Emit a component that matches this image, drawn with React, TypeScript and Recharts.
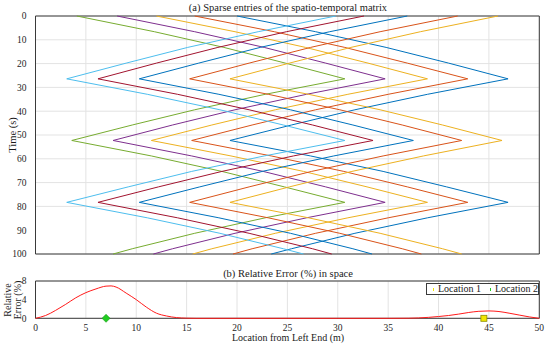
import React from "react";
import {
  CartesianGrid,
  ComposedChart,
  Line,
  ReferenceArea,
  Scatter,
  ScatterChart,
  XAxis,
  YAxis,
} from "recharts";

// sample times shared by every trajectory (s)
const times = [0, 6.6, 13.2, 19.8, 26.4, 32.9, 39.4, 45.8, 52.3, 58.8, 65.3, 71.8, 78.3, 84.8, 91.3, 97.8, 100];

// location (m) of each sparse entry at those times
const blue1 = [20.0, 27.8, 34.8, 41.0, 46.9, 38.9, 31.7, 25.4, 19.3, 27.3, 34.5, 40.8, 46.9, 38.9, 31.7, 25.4, 23.4];
const orange2 = [15.8, 23.7, 30.7, 36.9, 42.9, 35.0, 27.8, 21.5, 15.5, 23.4, 30.6, 36.9, 42.9, 35.0, 27.8, 21.5, 19.6];
const yellow3 = [12.0, 19.8, 26.8, 33.0, 38.9, 31.0, 23.8, 17.5, 11.5, 19.4, 26.6, 32.9, 38.9, 31.0, 23.8, 17.5, 15.6];
const purple4 = [8.1, 15.8, 22.7, 28.8, 34.7, 26.9, 19.8, 13.6, 7.7, 15.5, 22.6, 28.8, 34.7, 26.9, 19.8, 13.6, 11.7];
const green5 = [4.1, 11.8, 18.7, 24.8, 30.7, 22.8, 15.8, 9.6, 3.6, 11.5, 18.5, 24.7, 30.7, 22.8, 15.8, 9.6, 7.7];
const cyan6 = [29.8, 22.1, 15.1, 9.0, 3.1, 11.1, 18.3, 24.6, 30.7, 22.7, 15.5, 9.2, 3.1, 11.1, 18.3, 24.6, 26.6];
const red7 = [32.6, 24.9, 18.1, 12.0, 6.2, 14.1, 21.2, 27.5, 33.5, 25.6, 18.5, 12.2, 6.2, 14.1, 21.2, 27.5, 29.4];
const blue8 = [36.9, 29.2, 22.3, 16.2, 10.3, 18.2, 25.3, 31.5, 37.5, 29.6, 22.5, 16.3, 10.3, 18.2, 25.3, 31.5, 33.4];
const orange9 = [41.9, 34.2, 27.3, 21.2, 15.3, 23.1, 30.2, 36.4, 42.3, 34.5, 27.4, 21.2, 15.3, 23.1, 30.2, 36.4, 38.3];
const yellow10 = [45.9, 38.2, 31.3, 25.2, 19.3, 27.1, 34.2, 40.4, 46.3, 38.5, 31.4, 25.2, 19.3, 27.1, 34.2, 40.4, 42.3];

const tracks = [
  { name: "s1", xs: blue1, color: "#0072BD" },
  { name: "s2", xs: orange2, color: "#D95319" },
  { name: "s3", xs: yellow3, color: "#EDB120" },
  { name: "s4", xs: purple4, color: "#7E2F8E" },
  { name: "s5", xs: green5, color: "#77AC30" },
  { name: "s6", xs: cyan6, color: "#4DBEEE" },
  { name: "s7", xs: red7, color: "#A2142F" },
  { name: "s8", xs: blue8, color: "#0072BD" },
  { name: "s9", xs: orange9, color: "#D95319" },
  { name: "s10", xs: yellow10, color: "#EDB120" },
];

const timeTicks = [0, 10, 20, 30, 40, 50, 60, 70, 80, 90, 100];
const locTicks = [0, 5, 10, 15, 20, 25, 30, 35, 40, 45, 50];
const errTicks = [0, 4, 8];

// relative error (%) along the beam
const errLoc = [0, 1, 1.5, 2, 3, 4, 5, 6, 7, 7.5, 8, 9, 10, 11, 12, 13, 14, 15, 16, 20, 25, 30, 35, 37, 38, 39, 40, 41, 42, 43, 44, 45, 46, 47, 48, 49, 50];
const errVal = [0, 0.6, 1.1, 1.7, 3.0, 4.4, 5.5, 6.3, 6.9, 6.95, 6.7, 5.4, 4.0, 2.4, 1.1, 0.5, 0.15, 0.03, 0, 0, 0, 0, 0, 0.02, 0.08, 0.2, 0.38, 0.6, 0.9, 1.25, 1.5, 1.58, 1.45, 1.1, 0.7, 0.3, 0];

const location1 = [{ x: 44.5, e: 0 }];
const location2 = [{ x: 7, e: 0 }];

const serif = "'Liberation Serif', 'DejaVu Serif', serif";
const tickStyle = { fontSize: 9.5, fill: "#262626", fontFamily: serif };
const gridColor = "#e3e3e3";
const boxColor = "#3a3a3a";

const noDot = () => <g />;

const SquareMark = (props: any) => (
  <rect x={props.cx - 3} y={props.cy - 3} width={6} height={6} fill="#f2e600" stroke="#8a8a00" strokeWidth={0.8} />
);
const DiamondMark = (props: any) => (
  <path
    d={`M${props.cx},${props.cy - 4} L${props.cx + 4},${props.cy} L${props.cx},${props.cy + 4} L${props.cx - 4},${props.cy} Z`}
    fill="#22cc22"
    stroke="#119911"
    strokeWidth={0.6}
  />
);

export default function App() {
  const errData = errLoc.map((x, i) => ({ x, e: errVal[i] }));

  return (
    <div style={{ position: "absolute", left: 0, top: 0, width: 550, height: 347, background: "#fff", fontFamily: serif, color: "#1a1a1a" }}>
      <div style={{ position: "absolute", left: 0, top: 2, width: 576, textAlign: "center", fontSize: 10.5 }}>
        (a) Sparse entries of the spatio-temporal matrix
      </div>
      <div
        style={{
          position: "absolute",
          left: 12,
          top: 135,
          fontSize: 10.5,
          transform: "translate(-50%, -50%) rotate(-90deg)",
          whiteSpace: "nowrap",
        }}
      >
        Time (s)
      </div>

      <div style={{ position: "absolute", left: 0, top: 0 }}>
        <ScatterChart width={550} height={262} margin={{ top: 16, right: 10.7, bottom: 8, left: 0 }}>
          <CartesianGrid stroke={gridColor} />
          <XAxis type="number" dataKey="x" domain={[0, 50]} ticks={locTicks} hide />
          <YAxis
            type="number"
            dataKey="t"
            domain={[0, 100]}
            ticks={timeTicks}
            reversed
            width={35.5}
            axisLine={false}
            tickLine={false}
            tick={tickStyle}
            tickMargin={3}
          />
          {tracks.map((tr) => (
            <Scatter
              key={tr.name}
              data={times.map((t, i) => ({ x: tr.xs[i], t }))}
              line={{ stroke: tr.color, strokeWidth: 1 }}
              shape={noDot}
              isAnimationActive={false}
            />
          ))}
          <ReferenceArea x1={0} x2={50} y1={0} y2={100} fill="none" stroke={boxColor} strokeWidth={1} />
        </ScatterChart>
      </div>

      <div style={{ position: "absolute", left: 0, top: 268, width: 576, textAlign: "center", fontSize: 10.5 }}>
        (b) Relative Error (%) in space
      </div>
      <div
        style={{
          position: "absolute",
          left: 13,
          top: 300,
          fontSize: 10,
          lineHeight: "10px",
          textAlign: "center",
          transform: "translate(-50%, -50%) rotate(-90deg)",
          whiteSpace: "nowrap",
        }}
      >
        Relative
        <br />
        Error (%)
      </div>
      <div style={{ position: "absolute", left: 0, top: 333, width: 576, textAlign: "center", fontSize: 10, lineHeight: "10px" }}>
        Location from Left End (m)
      </div>

      <div style={{ position: "absolute", left: 0, top: 262 }}>
        <ComposedChart width={550} height={85} data={errData} margin={{ top: 19, right: 10.7, bottom: 8.7, left: 0 }}>
          <CartesianGrid stroke={gridColor} />
          <XAxis
            type="number"
            dataKey="x"
            domain={[0, 50]}
            ticks={locTicks}
            height={20}
            axisLine={false}
            tickLine={false}
            tick={tickStyle}
            tickMargin={0}
          />
          <YAxis
            type="number"
            dataKey="e"
            domain={[0, 8]}
            ticks={errTicks}
            width={35.5}
            axisLine={false}
            tickLine={false}
            tick={tickStyle}
            tickMargin={3}
          />
          <Line dataKey="e" type="monotone" stroke="#ff1a1a" strokeWidth={1} dot={false} isAnimationActive={false} />
          <Scatter data={location2} dataKey="e" shape={DiamondMark} isAnimationActive={false} />
          <Scatter data={location1} dataKey="e" shape={SquareMark} isAnimationActive={false} />
          <ReferenceArea x1={0} x2={50} y1={0} y2={8} fill="none" stroke={boxColor} strokeWidth={1} />
        </ComposedChart>
      </div>

      <div
        style={{
          position: "absolute",
          left: 426,
          top: 283,
          width: 111,
          height: 10,
          border: "1px solid #3a3a3a",
          background: "#fff",
          fontSize: 10,
          lineHeight: "10px",
          display: "flex",
          alignItems: "center",
          whiteSpace: "nowrap",
        }}
      >
        <span style={{ display: "inline-block", width: 3, height: 3, background: "#f2e600", marginLeft: 6, marginRight: 4 }} />
        <span>Location 1</span>
        <span style={{ display: "inline-block", width: 3, height: 3, background: "#22cc22", marginLeft: 9, marginRight: 4 }} />
        <span>Location 2</span>
      </div>
    </div>
  );
}
